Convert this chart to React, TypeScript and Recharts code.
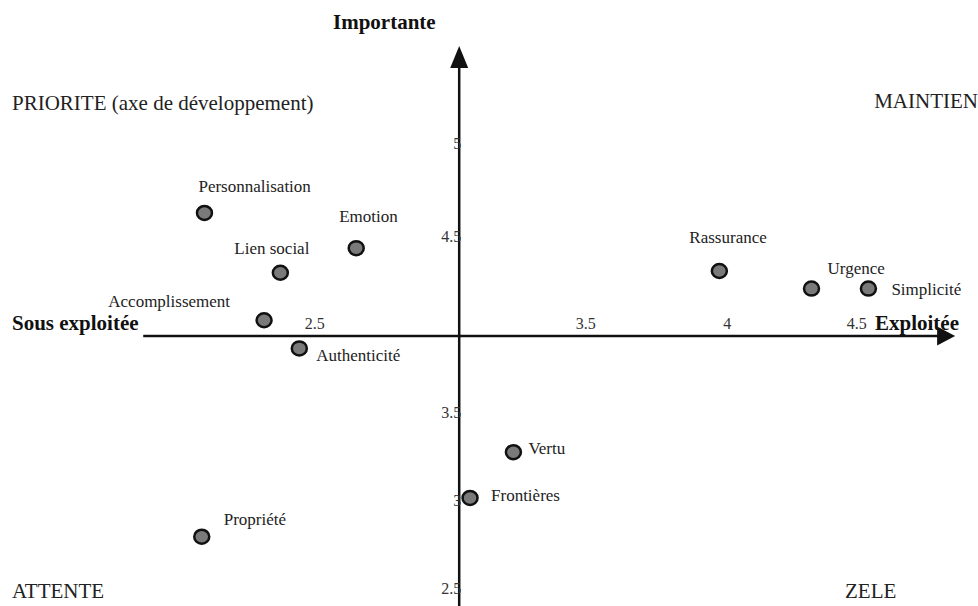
import { ReferenceDot, ReferenceLine, Scatter, ScatterChart, XAxis, YAxis } from 'recharts';

const INK = '#111111';
const DOT = '#7a7a7a';
const SERIF = "'Liberation Serif', 'Times New Roman', serif";

// criteria, how exploited (x) and how important (y)
const criteria = [
  'Personnalisation',
  'Emotion',
  'Lien social',
  'Accomplissement',
  'Authenticité',
  'Rassurance',
  'Urgence',
  'Simplicité',
  'Vertu',
  'Frontières',
  'Propriété',
];
const exploitation = [2.06, 2.62, 2.34, 2.28, 2.41, 3.96, 4.3, 4.51, 3.2, 3.04, 2.05];
const importance = [4.7, 4.5, 4.36, 4.09, 3.93, 4.37, 4.27, 4.27, 3.34, 3.08, 2.86];

const xTicks = [2.5, 3.5, 4, 4.5];
const yTicks = [5, 4.5, 3.5, 3, 2.5];

const X_CROSS = 3;
const Y_CROSS = 4;

const points = criteria.map((name, i) => ({ name, x: exploitation[i], y: importance[i] }));

// where each name sits next to its dot
const labelPlace: Record<string, { dx: number; dy: number; anchor?: 'start' | 'end' }> = {
  Personnalisation: { dx: -6, dy: -21 },
  Emotion: { dx: -17, dy: -26 },
  'Lien social': { dx: -46, dy: -19 },
  Accomplissement: { dx: -34, dy: -13, anchor: 'end' },
  Authenticité: { dx: 17, dy: 13 },
  Rassurance: { dx: -30, dy: -28 },
  Urgence: { dx: 16, dy: -15 },
  Simplicité: { dx: 23, dy: 6 },
  Vertu: { dx: 15, dy: 2 },
  Frontières: { dx: 21, dy: 3 },
  Propriété: { dx: 22, dy: -12 },
};

const serifText = (size: number, color = '#222', bold = false) => ({
  fontFamily: SERIF,
  fontSize: size,
  fontWeight: bold ? 700 : 400,
  fill: color,
});

const dotShape = (p: any) => (
  <ellipse cx={p.cx} cy={p.cy} rx={7.5} ry={7} fill={DOT} stroke={INK} strokeWidth={2.5} />
);

const nameLabel = (name: string) => (p: any) => {
  const place = labelPlace[name] || { dx: 12, dy: 0 };
  return (
    <text x={p.cx + place.dx} y={p.cy + place.dy} textAnchor={place.anchor || 'start'} style={serifText(17)}>
      {name}
    </text>
  );
};

const arrowUp = (p: any) => (
  <polygon points={`${p.cx},${p.cy} ${p.cx - 9},${p.cy + 22} ${p.cx + 9},${p.cy + 22}`} fill={INK} />
);
const arrowRight = (p: any) => (
  <polygon points={`${p.cx},${p.cy} ${p.cx - 18},${p.cy - 9.5} ${p.cx - 18},${p.cy + 9.5}`} fill={INK} />
);

const xTickLabel = (v: number) => (p: any) => (
  <text x={p.cx + 1} y={p.cy - 7} textAnchor="end" style={serifText(16, '#333')}>
    {v}
  </text>
);
// the top label sits a bit higher than the others in the original
const yTickLabel = (v: number) => (p: any) => (
  <text x={p.cx + 2} y={p.cy - (v === 5 ? 11 : 6)} textAnchor="end" style={serifText(16, '#333')}>
    {v}
  </text>
);

export default function App() {
  return (
    <div style={{ position: 'absolute', left: 0, top: 0, width: 978, height: 606, background: '#fff' }}>
      <ScatterChart width={978} height={606} margin={{ top: 37, right: 31, bottom: 6, left: 134 }}>
        <XAxis type="number" dataKey="x" domain={[1.8, 4.8]} hide allowDataOverflow />
        <YAxis type="number" dataKey="y" domain={[2.5, 5.7]} hide allowDataOverflow />
        <ReferenceLine
          segment={[
            { x: 1.834, y: Y_CROSS },
            { x: 4.78, y: Y_CROSS },
          ]}
          stroke={INK}
          strokeWidth={2.5}
          ifOverflow="visible"
        />
        <ReferenceLine
          segment={[
            { x: X_CROSS, y: 2.4 },
            { x: X_CROSS, y: 5.53 },
          ]}
          stroke={INK}
          strokeWidth={2.5}
          ifOverflow="visible"
        />
        <ReferenceDot x={X_CROSS} y={5.649} r={0} shape={arrowUp} ifOverflow="visible" />
        <ReferenceDot x={4.83} y={Y_CROSS} r={0} shape={arrowRight} ifOverflow="visible" />
        {xTicks.map((v) => (
          <ReferenceDot key={`x${v}`} x={v} y={Y_CROSS} r={0} shape={xTickLabel(v)} ifOverflow="visible" />
        ))}
        {yTicks.map((v) => (
          <ReferenceDot key={`y${v}`} x={X_CROSS} y={v} r={0} shape={yTickLabel(v)} ifOverflow="visible" />
        ))}
        {points.map((pt) => (
          <ReferenceDot key={pt.name} x={pt.x} y={pt.y} r={0} shape={nameLabel(pt.name)} ifOverflow="visible" />
        ))}
        <Scatter data={points} shape={dotShape} isAnimationActive={false} />
      </ScatterChart>
      <svg width={978} height={606} style={{ position: 'absolute', left: 0, top: 0, pointerEvents: 'none' }}>
        <text x={333} y={29} style={serifText(21, INK, true)}>
          Importante
        </text>
        <text x={12} y={330} style={serifText(21, INK, true)}>
          Sous exploitée
        </text>
        <text x={875} y={330} style={serifText(21, INK, true)}>
          Exploitée
        </text>
        <text x={12} y={110} style={serifText(21)}>
          PRIORITE (axe de développement)
        </text>
        <text x={978} y={108} textAnchor="end" style={serifText(21)}>
          MAINTIEN
        </text>
        <text x={12} y={598} style={serifText(21)}>
          ATTENTE
        </text>
        <text x={845} y={598} style={serifText(21)}>
          ZELE
        </text>
      </svg>
    </div>
  );
}
